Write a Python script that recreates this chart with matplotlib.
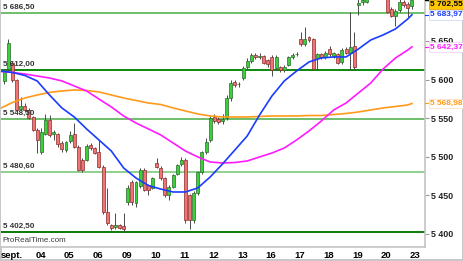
import matplotlib.pyplot as plt
import numpy as np

plt.rcParams['font.family'] = ['Liberation Sans', 'DejaVu Sans']

# hourly candles (7 per session)
opens = [5598, 5614, 5622, 5600, 5562, 5566, 5561, 5551, 5535, 5506,
         5530, 5547, 5530, 5529, 5518, 5509, 5520, 5529, 5513, 5496,
         5496, 5515, 5511, 5506, 5487, 5428, 5411, 5409, 5411, 5410,
         5441, 5467, 5440, 5462, 5483, 5463, 5460, 5492, 5485, 5472,
         5450, 5461, 5478, 5490, 5496, 5450, 5418, 5453, 5480, 5506,
         5522, 5552, 5549, 5546, 5550, 5576, 5597, 5594, 5602, 5616,
         5624, 5632, 5629, 5630, 5625, 5629, 5615, 5616, 5612, 5619,
         5629, 5633, 5652, 5646, 5655, 5652, 5628, 5633, 5629, 5640,
         5630, 5633, 5623, 5640, 5634, 5643, 5697, 5700, 5701, 5708,
         5714, 5719, 5716, 5712, 5692, 5683, 5690, 5700, 5698, 5695]
highs = [5614, 5652, 5624, 5601, 5577, 5570, 5563, 5553, 5537, 5537,
         5555, 5554, 5534, 5531, 5521, 5521, 5533, 5544, 5515, 5498,
         5517, 5518, 5513, 5522, 5489, 5459, 5413, 5427, 5413, 5427,
         5463, 5470, 5469, 5486, 5486, 5465, 5474, 5498, 5488, 5474,
         5463, 5478, 5491, 5500, 5498, 5452, 5455, 5482, 5508, 5524,
         5553, 5555, 5552, 5556, 5580, 5600, 5599, 5597, 5617, 5628,
         5634, 5635, 5634, 5632, 5627, 5632, 5632, 5618, 5619, 5631,
         5634, 5636, 5661, 5668, 5657, 5654, 5635, 5635, 5637, 5643,
         5636, 5635, 5641, 5642, 5687, 5661, 5706, 5710, 5712, 5718,
         5724, 5722, 5718, 5715, 5694, 5692, 5704, 5703, 5700, 5703]
lows = [5594, 5611, 5597, 5558, 5560, 5558, 5549, 5533, 5505, 5504,
        5528, 5526, 5522, 5513, 5506, 5506, 5518, 5511, 5481, 5480,
        5494, 5509, 5503, 5485, 5426, 5412, 5405, 5406, 5406, 5403,
        5437, 5438, 5435, 5460, 5455, 5450, 5458, 5485, 5470, 5448,
        5444, 5459, 5476, 5488, 5414, 5406, 5414, 5451, 5478, 5504,
        5519, 5544, 5542, 5543, 5547, 5572, 5590, 5590, 5600, 5614,
        5622, 5627, 5626, 5620, 5616, 5604, 5612, 5610, 5610, 5617,
        5627, 5631, 5644, 5644, 5649, 5612, 5612, 5627, 5627, 5631,
        5628, 5620, 5620, 5633, 5612, 5612, 5684, 5697, 5699, 5706,
        5711, 5712, 5708, 5686, 5681, 5670, 5688, 5694, 5681, 5692]
closes = [5612, 5648, 5600, 5561, 5566, 5561, 5550, 5535, 5522, 5532,
          5547, 5528, 5532, 5516, 5510, 5519, 5528, 5513, 5483, 5483,
          5514, 5511, 5505, 5487, 5428, 5414, 5408, 5411, 5408, 5406,
          5460, 5441, 5467, 5483, 5457, 5457, 5472, 5487, 5472, 5450,
          5461, 5476, 5489, 5496, 5418, 5418, 5453, 5480, 5506, 5519,
          5550, 5546, 5545, 5549, 5576, 5596, 5593, 5594, 5615, 5624,
          5632, 5629, 5631, 5622, 5620, 5612, 5629, 5612, 5616, 5629,
          5632, 5633, 5646, 5652, 5651, 5614, 5633, 5629, 5635, 5633,
          5634, 5622, 5638, 5635, 5642, 5616, 5699, 5703, 5705, 5714,
          5720, 5716, 5712, 5688, 5683, 5689, 5700, 5697, 5693, 5702.55]

days = ['sept.', '04', '05', '06', '09', '10', '11', '12', '13',
        '16', '17', '18', '19', '20', '23']
bars_per_day = 7
first_day_bar = 2

# moving averages, sampled every 3 bars
ma_idx = list(range(-1, 99, 3)) + [99]
ma_fast = [5611.1, 5609.2, 5605.3, 5598.2, 5580.0, 5563.2, 5551.5, 5536.0,
           5521.7, 5507.4, 5485.4, 5472.4, 5462.7, 5458.1, 5454.3, 5454.3,
           5459.5, 5473.7, 5490.6, 5508.7, 5526.9, 5554.1, 5578.7, 5598.2,
           5611.1, 5622.8, 5628.0, 5629.3, 5629.3, 5639.6, 5651.3, 5657.8,
           5665.6, 5678.6, 5683.97]
ma_mid = [5610.5, 5609.2, 5607.2, 5604.6, 5602.0, 5598.2, 5591.7, 5585.2,
          5574.8, 5564.5, 5552.8, 5543.7, 5536.0, 5528.2, 5517.8, 5507.4,
          5499.7, 5493.2, 5491.9, 5492.5, 5494.5, 5499.7, 5504.8, 5511.3,
          5521.7, 5533.4, 5546.3, 5560.6, 5569.6, 5582.6, 5595.6, 5613.7,
          5628.0, 5638.3, 5642.37]
ma_slow = [5562.5, 5570.3, 5576.1, 5580.0, 5583.3, 5585.2, 5586.5, 5585.8,
           5583.9, 5580.0, 5576.1, 5572.9, 5569.6, 5567.7, 5563.2, 5559.3,
           5555.4, 5552.8, 5551.5, 5551.5, 5551.5, 5552.2, 5552.8, 5552.8,
           5552.8, 5553.4, 5553.4, 5554.7, 5556.0, 5558.0, 5560.6, 5563.2,
           5565.1, 5567.1, 5568.98]

levels = [5686.50, 5612.00, 5548.50, 5480.60, 5402.50]
level_colors = ['#6cbf6c', '#0a8a0a', '#6cbf6c', '#8fd08f', '#0a7a0a']


def fr(v):
    return f'{v:,.2f}'.replace(',', ' ').replace('.', ',')


o = np.array(opens)
h = np.array(highs)
l = np.array(lows)
c = np.array(closes)
idx = np.arange(len(o))
up = c >= o

fig = plt.figure(figsize=(4.64, 2.61), dpi=100)
fig.patch.set_edgecolor('#c8c8c8')
fig.patch.set_linewidth(1.5)
ax = fig.add_axes([0.002, 14 / 261, 424 / 464, 247 / 261])

for lv, col in zip(levels, level_colors):
    ax.axhline(lv, color=col, lw=1.4, zorder=1)
    ax.annotate(fr(lv), xy=(0, lv), xycoords=ax.get_yaxis_transform(),
                xytext=(1.5, 1.5), textcoords='offset points',
                fontsize=5.8, fontweight='bold', color='#333333',
                va='bottom', ha='left', zorder=6)

ax.vlines(idx, l, h, color='#4a4a4a', lw=0.7, zorder=2)
body_h = np.maximum(np.abs(c - o), 0.7)
ax.bar(idx, body_h, bottom=np.minimum(o, c), width=0.72,
       color=np.where(up, '#3ccf3c', '#f07474'),
       edgecolor=np.where(up, '#2b6b2b', '#8a2c2c'), lw=0.5, zorder=3)

ax.plot(ma_idx, ma_slow, color='#ff9a1a', lw=1.2, zorder=4)
ax.plot(ma_idx, ma_mid, color='#ff1aff', lw=1.2, zorder=4)
ax.plot(ma_idx, ma_fast, color='#1a3cff', lw=1.2, zorder=4)

ax.set_xlim(-0.8, 102.15)
ax.set_ylim(5383, 5703.1)

ax.set_xticks([first_day_bar + bars_per_day * k - 0.2 for k in range(len(days))])
ax.set_xticklabels(days)
ax.tick_params(axis='x', length=0, pad=3, labelsize=6.8)

ax.yaxis.tick_right()
yt = [5400, 5450, 5500, 5550, 5600, 5650]
ax.set_yticks(yt)
ax.set_yticklabels([f'{v:,}'.replace(',', ' ') for v in yt])
ax.tick_params(axis='y', length=3, width=0.8, color='#9a9a9a', pad=1.5,
               labelsize=6.4, labelcolor='#222222')
for lab in ax.get_xticklabels() + ax.get_yticklabels():
    lab.set_fontweight('bold')

for s in ['top', 'left']:
    ax.spines[s].set_visible(False)
for s in ['right', 'bottom']:
    ax.spines[s].set_color('#c4c4c4')
    ax.spines[s].set_linewidth(1.2)

tr = ax.get_yaxis_transform()
tags = [(closes[-1], '#000000', '#ffc800', '#e0a000', -3.0),
        (ma_fast[-1], '#1a3cff', 'white', '#c8d0f0', 0),
        (ma_mid[-1], '#ff1aff', 'white', '#f0c8f0', 0),
        (ma_slow[-1], '#ff9a1a', 'white', '#f5dcc0', 0)]
for val, tc, fc, ec, dy in tags:
    ax.plot([1.0, 1.008], [val, val], color=tc, lw=0.8, transform=tr,
            clip_on=False, zorder=7)
    ax.annotate(fr(val), xy=(1.0, val), xycoords=tr, xytext=(3.5, dy),
                textcoords='offset points', fontsize=6, fontweight='bold',
                color=tc, va='center', ha='left', annotation_clip=False,
                bbox=dict(boxstyle='square,pad=0.15', fc=fc, ec=ec, lw=0.5),
                zorder=8)

ax.text(0.004, 0.012, 'ProRealTime.com', transform=ax.transAxes,
        fontsize=5.8, color='#3a3a3a', va='bottom', ha='left', zorder=6)

fig.savefig('out.png', dpi=100, edgecolor=fig.get_edgecolor())
